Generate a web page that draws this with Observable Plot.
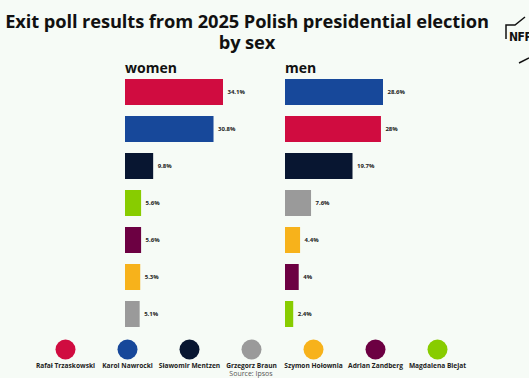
<!DOCTYPE html>
<html>
<head>
<meta charset="utf-8">
<script src="https://cdn.jsdelivr.net/npm/d3@7"></script>
<script src="https://cdn.jsdelivr.net/npm/@observablehq/plot@0.6"></script>
<style>
  html, body { margin: 0; padding: 0; }
  body { width: 529px; height: 378px; background: #f6fbf6; position: relative; overflow: hidden; font-family: "Open Sans", "Noto Sans", sans-serif; }
  .abs { position: absolute; }
  #title { left: 0; top: 10px; width: 494px; text-align: center; font-weight: 700; font-size: 18.3px; line-height: 21px; color: #111; letter-spacing: -0.1px; white-space: nowrap; }
  .panel-label { font-weight: 700; font-size: 14px; color: #111; }
  #source { left: 0; width: 502px; top: 369px; text-align: center; font-size: 7px; color: #555; }
  svg { background: transparent !important; }
</style>
</head>
<body>
<script>
// ---- data ----
const candidates = ["Rafał Trzaskowski", "Karol Nawrocki", "Sławomir Mentzen", "Grzegorz Braun", "Szymon Hołownia", "Adrian Zandberg", "Magdalena Biejat"];
const candidateColors = ["#d00c40", "#17489a", "#081631", "#9a9a9a", "#f7b21b", "#6c0042", "#88cc00"];

const womenOrder = ["Rafał Trzaskowski", "Karol Nawrocki", "Sławomir Mentzen", "Magdalena Biejat", "Adrian Zandberg", "Szymon Hołownia", "Grzegorz Braun"];
const womenValues = [34.1, 30.8, 9.8, 5.6, 5.6, 5.3, 5.1];

const menOrder = ["Karol Nawrocki", "Rafał Trzaskowski", "Sławomir Mentzen", "Grzegorz Braun", "Szymon Hołownia", "Adrian Zandberg", "Magdalena Biejat"];
const menValues = [28.6, 28, 19.7, 7.6, 4.4, 4, 2.4];

const titleLines = ["Exit poll results from 2025 Polish presidential election", "by sex"];
const sourceText = "Source: Ipsos";

// ---- build ----
const colorScale = {domain: candidates, range: candidateColors};

const title = document.createElement("div");
title.id = "title"; title.className = "abs";
titleLines.forEach(t => { const d = document.createElement("div"); d.textContent = t; title.appendChild(d); });
document.body.appendChild(title);

// partial logo at top right
const ns = "http://www.w3.org/2000/svg";
const logo = document.createElementNS(ns, "svg");
logo.setAttribute("width", "529"); logo.setAttribute("height", "70");
logo.setAttribute("class", "abs");
logo.style.left = "0px"; logo.style.top = "0px";
logo.innerHTML = '<polyline points="506,39 506,25 515,25 525,17" fill="none" stroke="#111" stroke-width="1.5"/>' +
  '<line x1="519" y1="63" x2="529" y2="58" stroke="#111" stroke-width="1.5"/>' +
  '<text x="509" y="41" font-size="12" font-weight="700" fill="#111" font-family="DejaVu Sans Condensed, DejaVu Sans, sans-serif" letter-spacing="-0.5">NFP</text>';
document.body.appendChild(logo);

function panel(order, values, left, label) {
  const data = order.map((c, i) => ({name: c, value: values[i]}));
  const max = d3.max(values);
  const chart = Plot.plot({
    width: left + 98 + 60,
    height: 345,
    marginLeft: left, marginRight: 60, marginTop: 0, marginBottom: 0,
    style: {background: "transparent", overflow: "visible"},
    x: {domain: [0, max], range: [left, left + 98], axis: null},
    y: {domain: order, range: [65.7, 340.2], padding: 0.3, axis: null},
    color: colorScale,
    marks: [
      Plot.barX(data, {x: "value", y: "name", fill: "name"}),
      Plot.text(data, {x: "value", y: "name", text: d => d.value + "%", dx: 4, textAnchor: "start",
        fontSize: 6, fontWeight: 700, fill: "#222", fontFamily: "Open Sans, sans-serif"})
    ]
  });
  chart.classList.add("abs");
  chart.style.left = "0px"; chart.style.top = "0px";
  document.body.appendChild(chart);
  const lab = document.createElement("div");
  lab.className = "abs panel-label";
  lab.style.left = left + "px"; lab.style.top = "58px";
  lab.textContent = label;
  document.body.appendChild(lab);
}
panel(womenOrder, womenValues, 125, "women");
panel(menOrder, menValues, 285, "men");

const legend = Plot.plot({
  width: 529, height: 40,
  marginLeft: 0, marginRight: 0, marginTop: 0, marginBottom: 0,
  style: {background: "transparent", overflow: "visible"},
  x: {type: "point", domain: candidates, range: [31, 471], axis: null},
  y: {domain: [0, 1], range: [0, 40], axis: null},
  color: colorScale,
  marks: [
    Plot.dot(candidates, {x: d => d, y: () => 0.25, r: 10, fill: d => d}),
    Plot.text(candidates, {x: d => d, y: () => 0.67, text: d => d, fontSize: 6.6, fontWeight: 700, fill: "#222", fontFamily: "Open Sans, sans-serif"})
  ]
});
legend.classList.add("abs");
legend.style.left = "0px"; legend.style.top = "339px";
document.body.appendChild(legend);

const src = document.createElement("div");
src.id = "source"; src.className = "abs";
src.textContent = sourceText;
document.body.appendChild(src);
</script>
</body>
</html>
